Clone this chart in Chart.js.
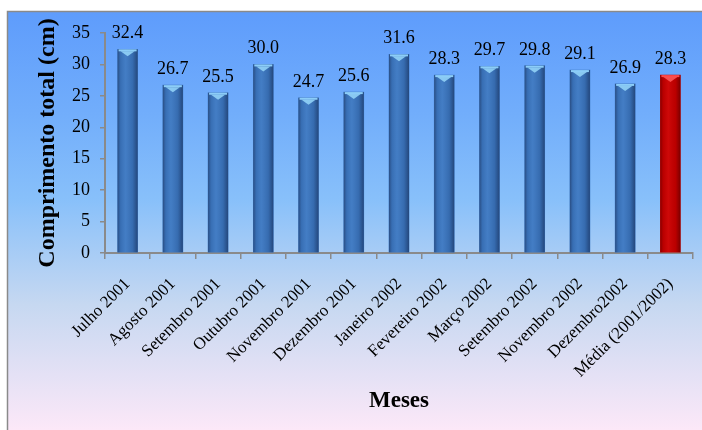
<!DOCTYPE html>
<html>
<head>
<meta charset="utf-8">
<script src="https://cdn.jsdelivr.net/npm/chart.js@4/dist/chart.umd.min.js"></script>
<style>
  html, body { margin: 0; padding: 0; background: #ffffff; }
  #c { display: block; }
</style>
</head>
<body>
<canvas id="c" width="702" height="430"></canvas>
<script>
// Monthly mean total length (cm), July 2001 – December 2002, plus the overall mean
const categories = [
  'Julho 2001', 'Agosto 2001', 'Setembro 2001', 'Outubro 2001', 'Novembro 2001',
  'Dezembro 2001', 'Janeiro 2002', 'Fevereiro 2002', 'Março 2002', 'Setembro 2002',
  'Novembro 2002', 'Dezembro2002', 'Média (2001/2002)'
];
const lengths = [32.4, 26.7, 25.5, 30.0, 24.7, 25.6, 31.6, 28.3, 29.7, 29.8, 29.1, 26.9, 28.3];
const yTickRange = { min: 0, max: 35, step: 5 };

const BLUE = '#3c77c0';
const RED = '#c60000';
const barFill = categories.map((c, i) => i === categories.length - 1 ? RED : BLUE);

const SERIF = "'Liberation Serif', 'Times New Roman', serif";

// Framed gradient backdrop behind the whole chart
const backdrop = {
  id: 'backdrop',
  beforeDraw(chart) {
    const { ctx, width, height } = chart;
    ctx.save();
    const g = ctx.createLinearGradient(0, 11, 0, height);
    g.addColorStop(0.00, '#5e9cfc');
    g.addColorStop(0.25, '#72aefb');
    g.addColorStop(0.45, '#88c0fa');
    g.addColorStop(0.70, '#c6d8f1');
    g.addColorStop(1.00, '#fce8f8');
    ctx.fillStyle = g;
    ctx.fillRect(7, 11, width - 7, height - 11);
    ctx.strokeStyle = '#8a8a8a';
    ctx.lineWidth = 1.5;
    ctx.strokeRect(7.5, 11.5, width + 5, height + 5);
    ctx.restore();
  }
};

// Cylinder-like shading on each bar, then the value labels above
const cylinders = {
  id: 'cylinders',
  afterDatasetsDraw(chart) {
    const { ctx } = chart;
    const meta = chart.getDatasetMeta(0);
    ctx.save();
    meta.data.forEach((bar, i) => {
      const isRed = barFill[i] === RED;
      const left = bar.x - bar.width / 2;
      const w = bar.width;
      const top = bar.y;
      const h = bar.base - bar.y;
      const g = ctx.createLinearGradient(left, 0, left + w, 0);
      if (isRed) {
        g.addColorStop(0.00, 'rgba(90,0,0,0.6)');
        g.addColorStop(0.15, 'rgba(120,0,0,0.15)');
        g.addColorStop(0.40, 'rgba(255,60,60,0.15)');
        g.addColorStop(0.75, 'rgba(90,0,0,0.10)');
        g.addColorStop(1.00, 'rgba(70,0,0,0.6)');
      } else {
        g.addColorStop(0.00, 'rgba(30,50,90,0.6)');
        g.addColorStop(0.15, 'rgba(30,60,110,0.15)');
        g.addColorStop(0.40, 'rgba(120,170,230,0.12)');
        g.addColorStop(0.75, 'rgba(20,40,80,0.15)');
        g.addColorStop(1.00, 'rgba(20,40,80,0.6)');
      }
      ctx.fillStyle = g;
      ctx.fillRect(left, top, w, h);

      // top cap
      ctx.fillStyle = isRed ? '#ff4a4a' : '#8ccdf8';
      ctx.fillRect(left + 1, top, w - 2, 2);
      ctx.beginPath();
      ctx.moveTo(left + 3, top + 2);
      ctx.lineTo(left + w - 3, top + 2);
      ctx.lineTo(bar.x, top + 7);
      ctx.closePath();
      ctx.fillStyle = isRed ? 'rgba(255,90,90,0.85)' : 'rgba(150,215,250,0.85)';
      ctx.fill();

      // value label
      ctx.fillStyle = '#000';
      ctx.font = '18px ' + SERIF;
      ctx.textAlign = 'center';
      ctx.textBaseline = 'alphabetic';
      ctx.fillText(lengths[i].toFixed(1), bar.x, top - 11);
    });
    ctx.restore();
  }
};

new Chart(document.getElementById('c'), {
  type: 'bar',
  data: {
    labels: categories,
    datasets: [{
      data: lengths,
      backgroundColor: barFill,
      borderWidth: 0,
      barThickness: 20
    }]
  },
  options: {
    responsive: false,
    animation: false,
    layout: { padding: { left: 0, top: 33, right: 9, bottom: 0 } },
    plugins: {
      legend: { display: false },
      tooltip: { enabled: false }
    },
    scales: {
      x: {
        offset: true,
        grid: { drawOnChartArea: false, offset: true, color: '#8a8a8a', tickLength: 6, lineWidth: 1.5 },
        border: { color: '#8a8a8a', width: 2 },
        ticks: {
          color: '#000',
          font: { family: SERIF, size: 17 },
          minRotation: 45,
          maxRotation: 45,
          autoSkip: false,
          padding: 15
        },
        title: {
          display: true,
          text: 'Meses',
          color: '#000',
          font: { family: SERIF, size: 23, weight: 'bold' },
          padding: { top: 0, bottom: 15 }
        },
        afterFit(scale) { scale.height = 177; }
      },
      y: {
        min: yTickRange.min,
        max: yTickRange.max,
        grid: { drawOnChartArea: false, color: '#8a8a8a', tickLength: 5, lineWidth: 1.5 },
        border: { color: '#8a8a8a', width: 2 },
        ticks: {
          stepSize: yTickRange.step,
          color: '#000',
          font: { family: SERIF, size: 18 },
          padding: 10
        },
        title: {
          display: true,
          text: 'Comprimento total (cm)',
          color: '#000',
          font: { family: SERIF, size: 24, weight: 'bold' },
          padding: { top: 33, bottom: 0 }
        },
        afterFit(scale) { scale.width = 105; }
      }
    }
  },
  plugins: [backdrop, cylinders]
});
</script>
</body>
</html>
